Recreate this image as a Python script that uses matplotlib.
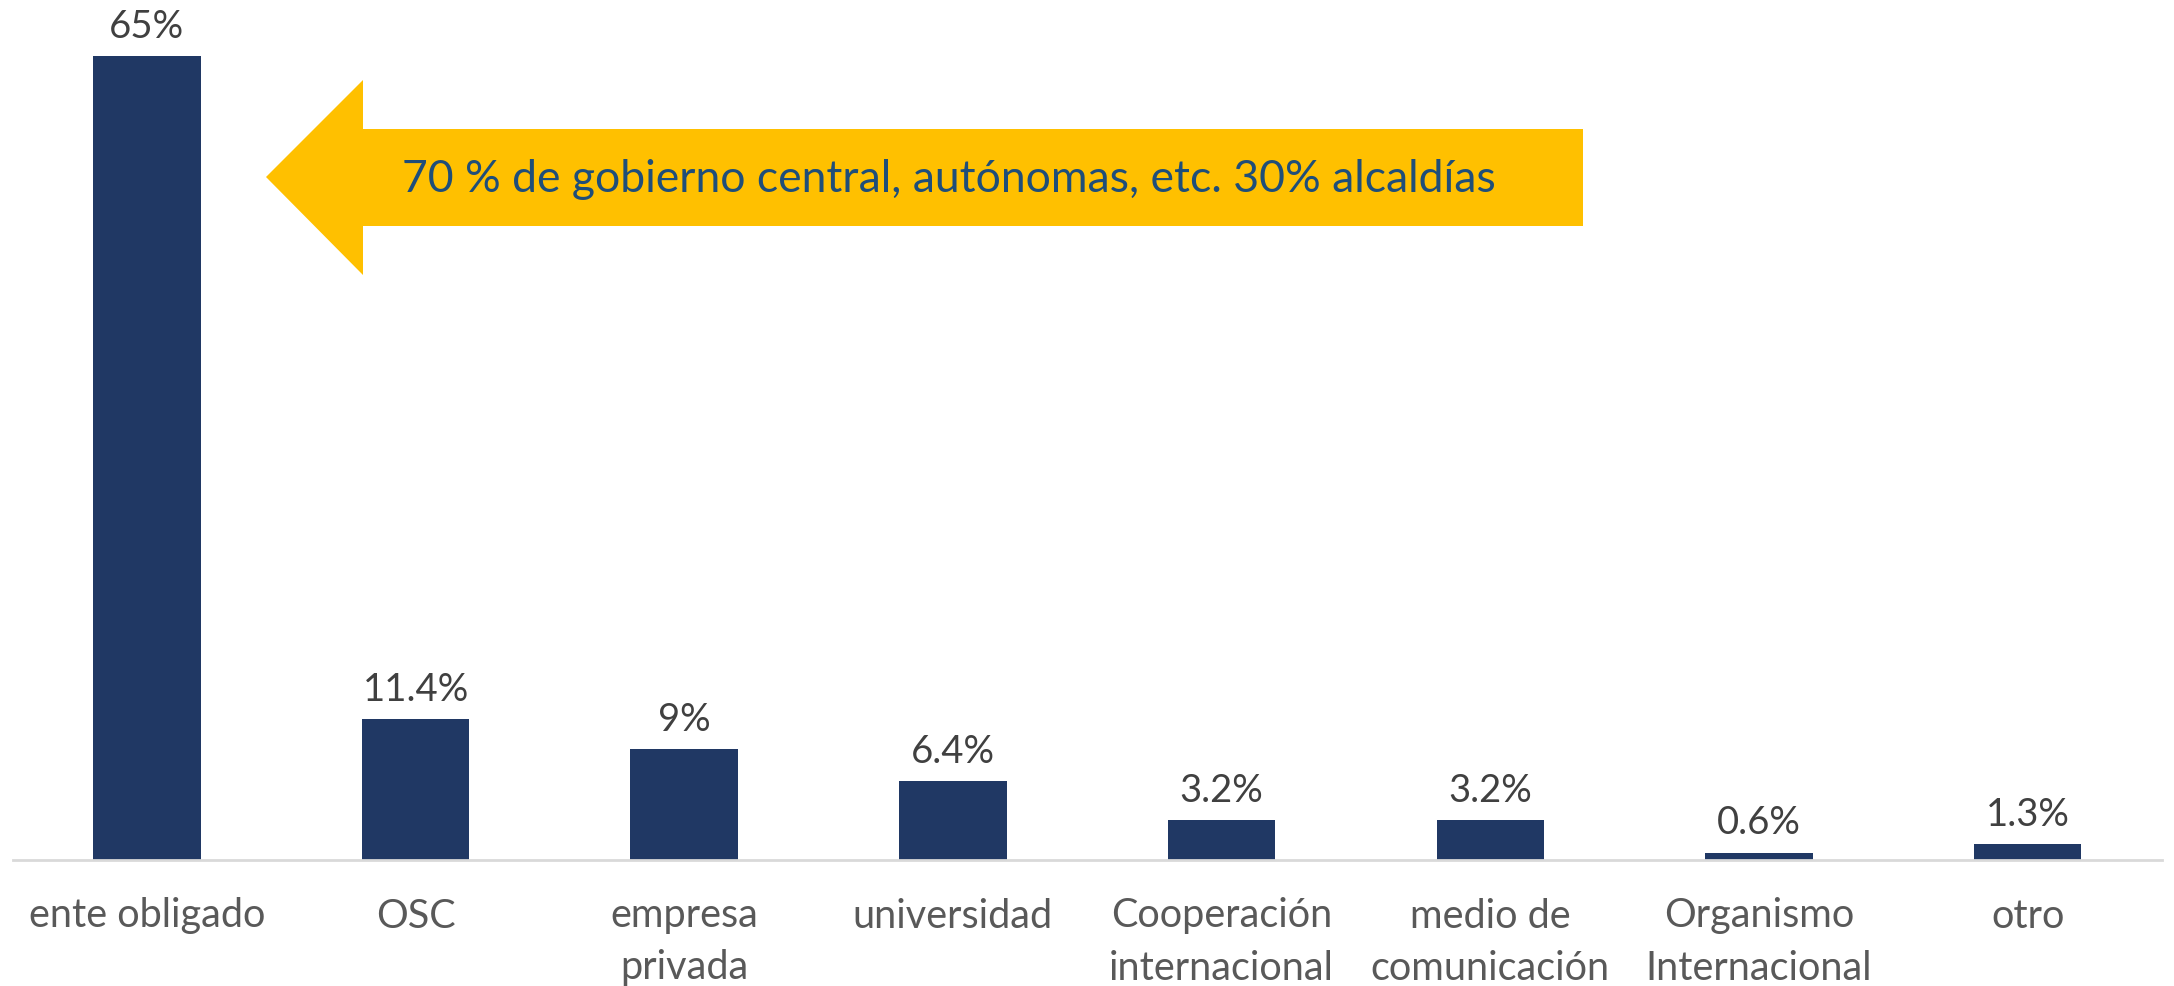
import matplotlib
matplotlib.use("Agg")
import matplotlib.pyplot as plt
from matplotlib.patches import Polygon


# ------------------------------------------------------------
# Data
# ------------------------------------------------------------
CATEGORIES = [
    "ente obligado",
    "OSC",
    "empresa\nprivada",
    "universidad",
    "Cooperación\ninternacional",
    "medio de\ncomunicación",
    "Organismo\nInternacional",
    "otro",
]
VALUES = [65, 11.4, 9, 6.4, 3.2, 3.2, 0.6, 1.3]
VALUE_LABELS = ["65%", "11.4%", "9%", "6.4%", "3.2%", "3.2%", "0.6%", "1.3%"]
NOTE = "70 % de gobierno central, autónomas, etc. 30% alcaldías"

BAR_COLOR = "#203864"
ARROW_COLOR = "#FFC000"
NOTE_COLOR = "#1F4E79"
LABEL_COLOR = "#595959"
VALUE_COLOR = "#404040"

plt.rcParams["font.family"] = ["Lato", "DejaVu Sans"]

W, H = 2174, 986
fig = plt.figure(figsize=(W / 100, H / 100), dpi=100)
ax = fig.add_axes([12.5 / W, (H - 860) / H, (2162 - 12.5) / W, 860 / H])

x = list(range(len(CATEGORIES)))
bars = ax.bar(x, VALUES, width=0.4, color=BAR_COLOR)

for xi, v, lab in zip(x, VALUES, VALUE_LABELS):
    ax.annotate(lab, (xi, v), xytext=(0, 8), textcoords="offset points",
                ha="center", va="bottom", fontsize=27.5, color=VALUE_COLOR)

ax.set_xlim(-0.5, len(CATEGORIES) - 0.5)
ax.set_ylim(0, 69.5)
ax.set_xticks(x)
ax.set_xticklabels(CATEGORIES, fontsize=28.5, color=LABEL_COLOR, linespacing=1.5)
ax.tick_params(axis="x", length=0, pad=27)
ax.set_yticks([])
for side in ["top", "right", "left"]:
    ax.spines[side].set_visible(False)
ax.spines["bottom"].set_color("#D9D9D9")
ax.spines["bottom"].set_linewidth(2)

# ------------------------------------------------------------
# Yellow arrow with note (pixel coords from the top-left)
# ------------------------------------------------------------
pts = [(266, 177), (363, 80), (363, 129), (1583, 129),
       (1583, 226), (363, 226), (363, 275)]
arrow = Polygon([(px / W, 1 - py / H) for px, py in pts], closed=True,
                facecolor=ARROW_COLOR, edgecolor="none",
                transform=fig.transFigure, zorder=3)
fig.patches.append(arrow)
fig.text(402 / W, 1 - 180 / H, NOTE, fontsize=32, color=NOTE_COLOR,
         ha="left", va="center", zorder=4)

fig.savefig("out.png", dpi=100)
